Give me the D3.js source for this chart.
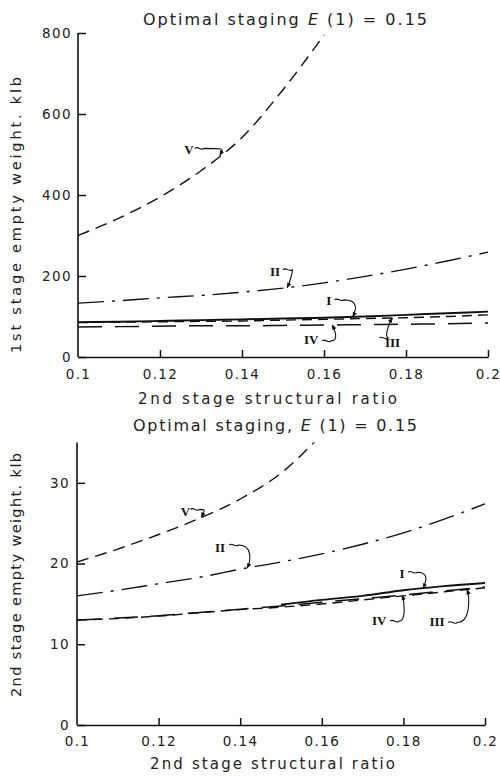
<!DOCTYPE html>
<html>
<head>
<meta charset="utf-8">
<script src="https://cdn.jsdelivr.net/npm/d3@7"></script>
<style>
  html, body { margin: 0; padding: 0; background: #fff; }
  svg { display: block; }
  .tick text { font-family: "DejaVu Sans", sans-serif; font-size: 13.5px; fill: #222; letter-spacing: 1.4px; }
  .lbl { font-family: "DejaVu Sans", sans-serif; fill: #222; }
  .roman { font-family: "Liberation Serif", serif; font-size: 13px; font-weight: bold; fill: #111; }
</style>
</head>
<body>
<svg id="chart" width="500" height="778"></svg>
<script>
// 2nd stage structural ratio (shared abscissa)
const ratio = [0.10, 0.11, 0.12, 0.13, 0.14, 0.15, 0.16, 0.17, 0.18, 0.19, 0.20];
const ratioTicks = [0.10, 0.12, 0.14, 0.16, 0.18, 0.20];
const ratioTickLabels = ["0.1", "0.12", "0.14", "0.16", "0.18", "0.2"];

// 1st stage empty weight, klb
const firstTicks = [0, 200, 400, 600, 800];
const firstV   = [300, 343, 395, 460, 542, 660, 795, null, null, null, null];
const firstII  = [133, 139, 146, 152, 160, 170, 183, 199, 217, 237, 259];
const firstI   = [86, 87, 89, 91, 93, 95, 97, 100, 104, 108, 112];
const firstIII = [85, 86, 87, 88, 89, 91, 93, 95, 97, 100, 104];
const firstIV  = [74, 75, 76, 77, 77, 78, 79, 80, 81, 82, 84];

// 2nd stage empty weight, klb
const secondTicks = [0, 10, 20, 30];
const secondV   = [20.2, 21.8, 23.6, 25.6, 28.0, 31.2, 36.0, null, null, null, null];
const secondII  = [16.0, 16.7, 17.5, 18.3, 19.3, 20.2, 21.2, 22.4, 23.8, 25.5, 27.4];
const secondI   = [null, null, null, null, null, 14.9, 15.5, 16.0, 16.7, 17.2, 17.6];
const secondIII = [13.0, 13.2, 13.5, 13.9, 14.3, 14.6, 15.0, 15.5, 16.0, 16.5, 17.0];
const secondIV  = [13.0, 13.25, 13.55, 13.95, 14.35, 14.75, 15.2, 15.65, 16.1, 16.6, 17.1];

// Case names and line styles
const caseNames = ["I", "II", "III", "IV", "V"];
const caseDash = { I: null, II: "26,8,3,8", III: "10,6", IV: "24,13", V: "12,7" };
const caseWidth = { I: 1.9, II: 1.4, III: 1.4, IV: 1.5, V: 1.4 };

const svg = d3.select("#chart");
const defs = svg.append("defs");
defs.append("marker")
  .attr("id", "tip").attr("viewBox", "0 0 10 10")
  .attr("refX", 9).attr("refY", 5)
  .attr("markerWidth", 5).attr("markerHeight", 5)
  .attr("orient", "auto-start-reverse")
  .append("path").attr("d", "M0,1 L10,5 L0,9 Z").attr("fill", "#111");

// spread a text element to a given width by adjusting letter-spacing
function fitWidth(sel, width) {
  const node = sel.node();
  const n = node.textContent.length;
  sel.style("letter-spacing", "0px");
  const w = node.getComputedTextLength();
  sel.style("letter-spacing", ((width - w) / (n - 1)) + "px");
}

function drawPanel(p) {
  const g = svg.append("g");
  const x = d3.scaleLinear().domain([0.1, 0.2]).range([p.left, p.right]);
  const y = d3.scaleLinear().domain([0, p.ymax]).range([p.bottom, p.top]);

  const clipId = "clip-" + p.id;
  defs.append("clipPath").attr("id", clipId)
    .append("rect").attr("x", p.left).attr("y", p.top)
    .attr("width", p.right - p.left + 4).attr("height", p.bottom - p.top);

  // axes
  const xAxis = g.append("g").attr("transform", `translate(0,${p.bottom})`)
    .call(d3.axisBottom(x).tickValues(ratioTicks)
      .tickFormat((d, i) => ratioTickLabels[i])
      .tickSizeInner(-7).tickSizeOuter(0).tickPadding(p.xPad));
  const yAxis = g.append("g").attr("transform", `translate(${p.left},0)`)
    .call(d3.axisLeft(y).tickValues(p.yTicks).tickFormat(d3.format("d"))
      .tickSizeInner(-8).tickSizeOuter(0).tickPadding(p.yPad));
  yAxis.select(".domain").attr("d", `M0,${p.bottom}V${p.axisTop}`);
  [xAxis, yAxis].forEach(a => {
    a.select(".domain").attr("stroke", "#111").attr("stroke-width", 1.6);
    a.selectAll(".tick line").attr("stroke", "#111").attr("stroke-width", 1.5);
  });
  xAxis.selectAll(".tick").filter(d => d === 0.1).select("line").remove();

  // curves
  const line = d3.line()
    .defined(d => d[1] !== null)
    .x(d => x(d[0])).y(d => y(d[1]))
    .curve(d3.curveMonotoneX);
  const lines = g.append("g").attr("clip-path", `url(#${clipId})`);
  caseNames.forEach(c => {
    const pts = ratio.map((r, i) => [r, p.series[c][i]]);
    lines.append("path")
      .attr("d", line(pts))
      .attr("fill", "none")
      .attr("stroke", "#111")
      .attr("stroke-width", caseWidth[c])
      .attr("stroke-dasharray", caseDash[c]);
  });

  // case labels with curly leader arrows
  p.notes.forEach(n => {
    const vals = p.series[n.name];
    const yv = d3.scaleLinear().domain(ratio).range(vals.map(v => v === null ? NaN : v))(n.at);
    const tx = x(n.at), ty = y(yv);
    const lx = tx + n.dx, ly = ty + n.dy;
    g.append("text").attr("class", "roman")
      .attr("x", lx).attr("y", ly).attr("text-anchor", "middle").attr("dy", "0.35em")
      .text(n.name);
    const sx = lx + n.sx, sy = ly + n.sy;
    const up = ty < sy ? -1 : 1;
    const path = `M${sx},${sy} c3,-3 6,3 9,0 C${tx + n.k},${sy} ${tx + n.k * 0.6},${ty - up * 7} ${tx},${ty}`;
    g.append("path").attr("d", path)
      .attr("fill", "none").attr("stroke", "#111").attr("stroke-width", 1.1)
      .attr("marker-end", "url(#tip)");
  });

  // titles
  const t = g.append("text").attr("class", "lbl").attr("font-size", 16)
    .attr("x", p.titleX).attr("y", p.titleY);
  t.append("tspan").text(p.titleA);
  t.append("tspan").attr("font-style", "italic").text("E");
  t.append("tspan").text(" (1) = 0.15");
  fitWidth(t, p.titleW);

  const xt = g.append("text").attr("class", "lbl").attr("font-size", 15)
    .attr("x", p.xTitleX).attr("y", p.xTitleY).text("2nd stage structural ratio");
  fitWidth(xt, p.xTitleW);

  const yt = g.append("text").attr("class", "lbl").attr("font-size", 14.5)
    .attr("transform", `translate(21,${p.yTitleB}) rotate(-90)`).text(p.yTitle);
  fitWidth(yt, p.yTitleW);
}

drawPanel({
  id: "first", left: 78, right: 488, top: 33, axisTop: 33, bottom: 357, ymax: 800,
  yTicks: firstTicks, xPad: 12, yPad: 6,
  series: { I: firstI, II: firstII, III: firstIII, IV: firstIV, V: firstV },
  notes: [
    { name: "V",   at: 0.1346, dx: -31, dy: -6,  sx: 6,  sy: -1, k: 6 },
    { name: "II",  at: 0.151,  dx: -12, dy: -16, sx: 8,  sy: -2, k: 6 },
    { name: "I",   at: 0.167,  dx: -24, dy: -16, sx: 6,  sy: -1, k: 6 },
    { name: "IV",  at: 0.162,  dx: -21, dy: 15,  sx: 11, sy: 1,  k: 6 },
    { name: "III", at: 0.1767, dx: 0,   dy: 24,  sx: -13, sy: -4, k: -8 }
  ],
  titleA: "Optimal staging ", titleX: 143, titleY: 25, titleW: 284,
  xTitleX: 138, xTitleY: 404, xTitleW: 259,
  yTitle: "1st stage empty weight. klb", yTitleB: 353, yTitleW: 276
});

drawPanel({
  id: "second", left: 77, right: 485, top: 442.5, axisTop: 442.5, bottom: 725, ymax: 35,
  yTicks: secondTicks, xPad: 11, yPad: 7,
  series: { I: secondI, II: secondII, III: secondIII, IV: secondIV, V: secondV },
  notes: [
    { name: "V",   at: 0.1305, dx: -16, dy: -6,  sx: 5,  sy: -2, k: 5 },
    { name: "II",  at: 0.1417, dx: -27, dy: -21, sx: 9,  sy: -2, k: 6 },
    { name: "I",   at: 0.1848, dx: -21, dy: -15, sx: 6,  sy: -1, k: 6 },
    { name: "IV",  at: 0.1797, dx: -23, dy: 25,  sx: 11, sy: 1,  k: 4 },
    { name: "III", at: 0.1956, dx: -30, dy: 32,  sx: 11, sy: 1,  k: 4 }
  ],
  titleA: "Optimal staging, ", titleX: 133, titleY: 431, titleW: 284,
  xTitleX: 150, xTitleY: 769, xTitleW: 245,
  yTitle: "2nd stage empty weight. klb", yTitleB: 697, yTitleW: 244
});
</script>
</body>
</html>
